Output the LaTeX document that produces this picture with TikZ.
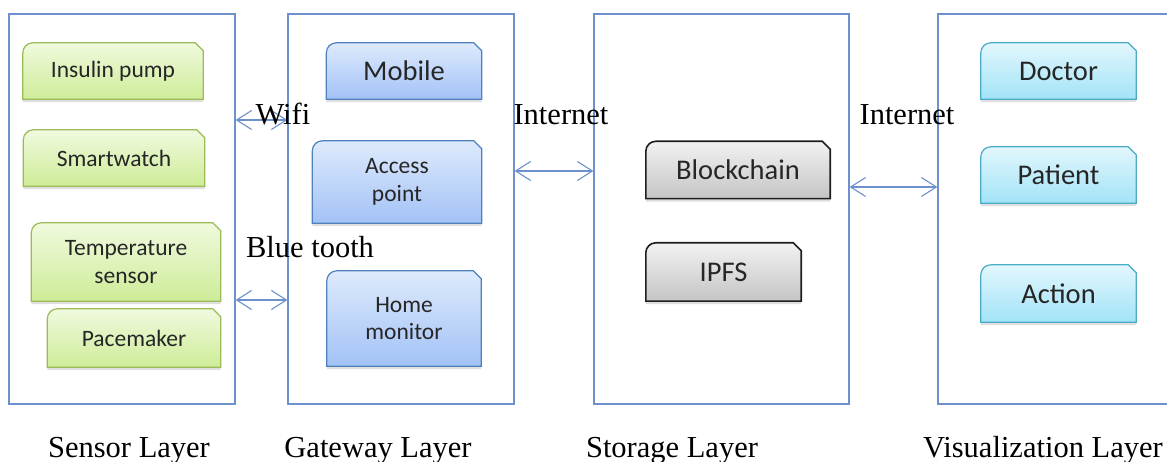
\documentclass[tikz,border=0pt]{standalone}
\usepackage{fontspec}
\setmainfont{Liberation Serif}
\newfontfamily\boxfont{Carlito}
\usetikzlibrary{arrows.meta, fit, backgrounds, shadows}
\definecolor{layerblue}{RGB}{108,145,205}
\definecolor{sensoredge}{RGB}{155,187,89}
\definecolor{sensortop}{RGB}{240,250,222}
\definecolor{sensorbot}{RGB}{206,236,152}
\definecolor{gateedge}{RGB}{79,129,189}
\definecolor{gatetop}{RGB}{222,234,252}
\definecolor{gatebot}{RGB}{162,194,246}
\definecolor{storeedge}{RGB}{30,30,30}
\definecolor{storetop}{RGB}{242,242,242}
\definecolor{storebot}{RGB}{196,196,196}
\definecolor{viewedge}{RGB}{75,172,198}
\definecolor{viewtop}{RGB}{226,247,253}
\definecolor{viewbot}{RGB}{162,227,247}
\tikzset{
  layerbox/.style={draw=layerblue, line width=1.2pt, inner sep=0pt},
  link/.style={draw=layerblue, line width=1.1pt,
    {Straight Barb[length=15pt,width=19pt]}-{Straight Barb[length=15pt,width=19pt]}},
  linklabel/.style={font=\fontsize{30.5}{34}\selectfont, anchor=base, inner sep=0pt},
  device/.style={font=\boxfont\fontsize{23.5}{27.5}\selectfont, align=center,
    inner sep=0pt, text=black!85},
  bigdevice/.style={device, font=\boxfont\fontsize{28.5}{32}\selectfont},
  snip/.style={line width=1.2pt,
    drop shadow={opacity=0.25, shadow xshift=0pt, shadow yshift=-3pt}},
  sensorfill/.style={snip, draw=sensoredge, top color=sensortop, bottom color=sensorbot},
  gatefill/.style={snip, draw=gateedge, top color=gatetop, bottom color=gatebot},
  storefill/.style={snip, draw=storeedge, line width=1.6pt, top color=storetop, bottom color=storebot},
  viewfill/.style={snip, draw=viewedge, top color=viewtop, bottom color=viewbot},
}

\begin{document}
\begin{tikzpicture}[x=1pt, y=-1pt]
  \useasboundingbox (0,0) rectangle (1167,462);
  \clip (0,0) rectangle (1167,462);

  % layers
  \node[layerbox, fit={(9,14) (235,404)}]    (sensor)  {};
  \node[layerbox, fit={(288,14) (514,404)}]  (gateway) {};
  \node[layerbox, fit={(594,14) (849,404)}]  (storage) {};
  \node[layerbox, fit={(938,14) (1190,404)}] (visual)  {};

  \node[linklabel] (sensorname)  at (129,457) {Sensor Layer};
  \node[linklabel] (gatewayname) at (378,457) {Gateway Layer};
  \node[linklabel] (storagename) at (672,457) {Storage Layer};
  \node[linklabel, anchor=base west] (visualname) at (923,457) {Visualization Layer};

  % devices
  \node[device, minimum width=180pt, minimum height=56pt] (pump)  at (113,71)  {Insulin pump};
  \node[device, minimum width=181pt, minimum height=56pt] (watch) at (114,158) {Smartwatch};
  \node[device, minimum width=189pt, minimum height=78pt] (temp)  at (126,262) {Temperature\\sensor};
  \node[device, minimum width=173pt, minimum height=58pt] (pace)  at (134,338) {Pacemaker};

  \node[bigdevice, minimum width=155pt, minimum height=56pt] (mobile) at (404,71) {Mobile};
  \node[device, minimum width=169pt, minimum height=82pt] (access) at (397,182)   {Access\\point};
  \node[device, minimum width=154pt, minimum height=95pt] (home)   at (404,318.5) {Home\\monitor};

  \node[bigdevice, minimum width=184pt, minimum height=57pt] (chain) at (738,170)   {Blockchain};
  \node[bigdevice, minimum width=155pt, minimum height=58pt] (ipfs)  at (723.5,272) {IPFS};

  \node[bigdevice, minimum width=155pt, minimum height=56pt] (doctor)  at (1058.5,71)    {Doctor};
  \node[bigdevice, minimum width=155pt, minimum height=56pt] (patient) at (1058.5,175)   {Patient};
  \node[bigdevice, minimum width=155pt, minimum height=57pt] (action)  at (1058.5,293.5) {Action};

  \begin{scope}[on background layer]
    \foreach \n/\s in {pump/sensorfill, watch/sensorfill, temp/sensorfill, pace/sensorfill,
                       mobile/gatefill, access/gatefill, home/gatefill,
                       chain/storefill, ipfs/storefill,
                       doctor/viewfill, patient/viewfill, action/viewfill}
      \draw[\s] (\n.south west) -- ([yshift=-10pt]\n.north west)
        arc[start angle=180, end angle=90, radius=10pt]
        -- ([xshift=-8pt]\n.north east) -- ([yshift=-8pt]\n.north east)
        -- (\n.south east) -- cycle;
  \end{scope}

  % links
  \coordinate (wifi)  at (0,120);
  \coordinate (blue)  at (0,300);
  \coordinate (net)   at (0,171);
  \coordinate (net2)  at (0,187);
  \draw[link] (sensor.east |- wifi)  -- (gateway.west |- wifi);
  \draw[link] (sensor.east |- blue)  -- (gateway.west |- blue);
  \draw[link] (gateway.east |- net)  -- (storage.west |- net);
  \draw[link] (storage.east |- net2) -- (visual.west |- net2);

  \node[linklabel] (wifilbl) at (283,125) {Wifi};
  \node[linklabel] (bluelbl) at (310,258) {Blue tooth};
  \node[linklabel] (netlbl)  at (561,125) {Internet};
  \node[linklabel] (net2lbl) at (907,125) {Internet};
\end{tikzpicture}
\end{document}
